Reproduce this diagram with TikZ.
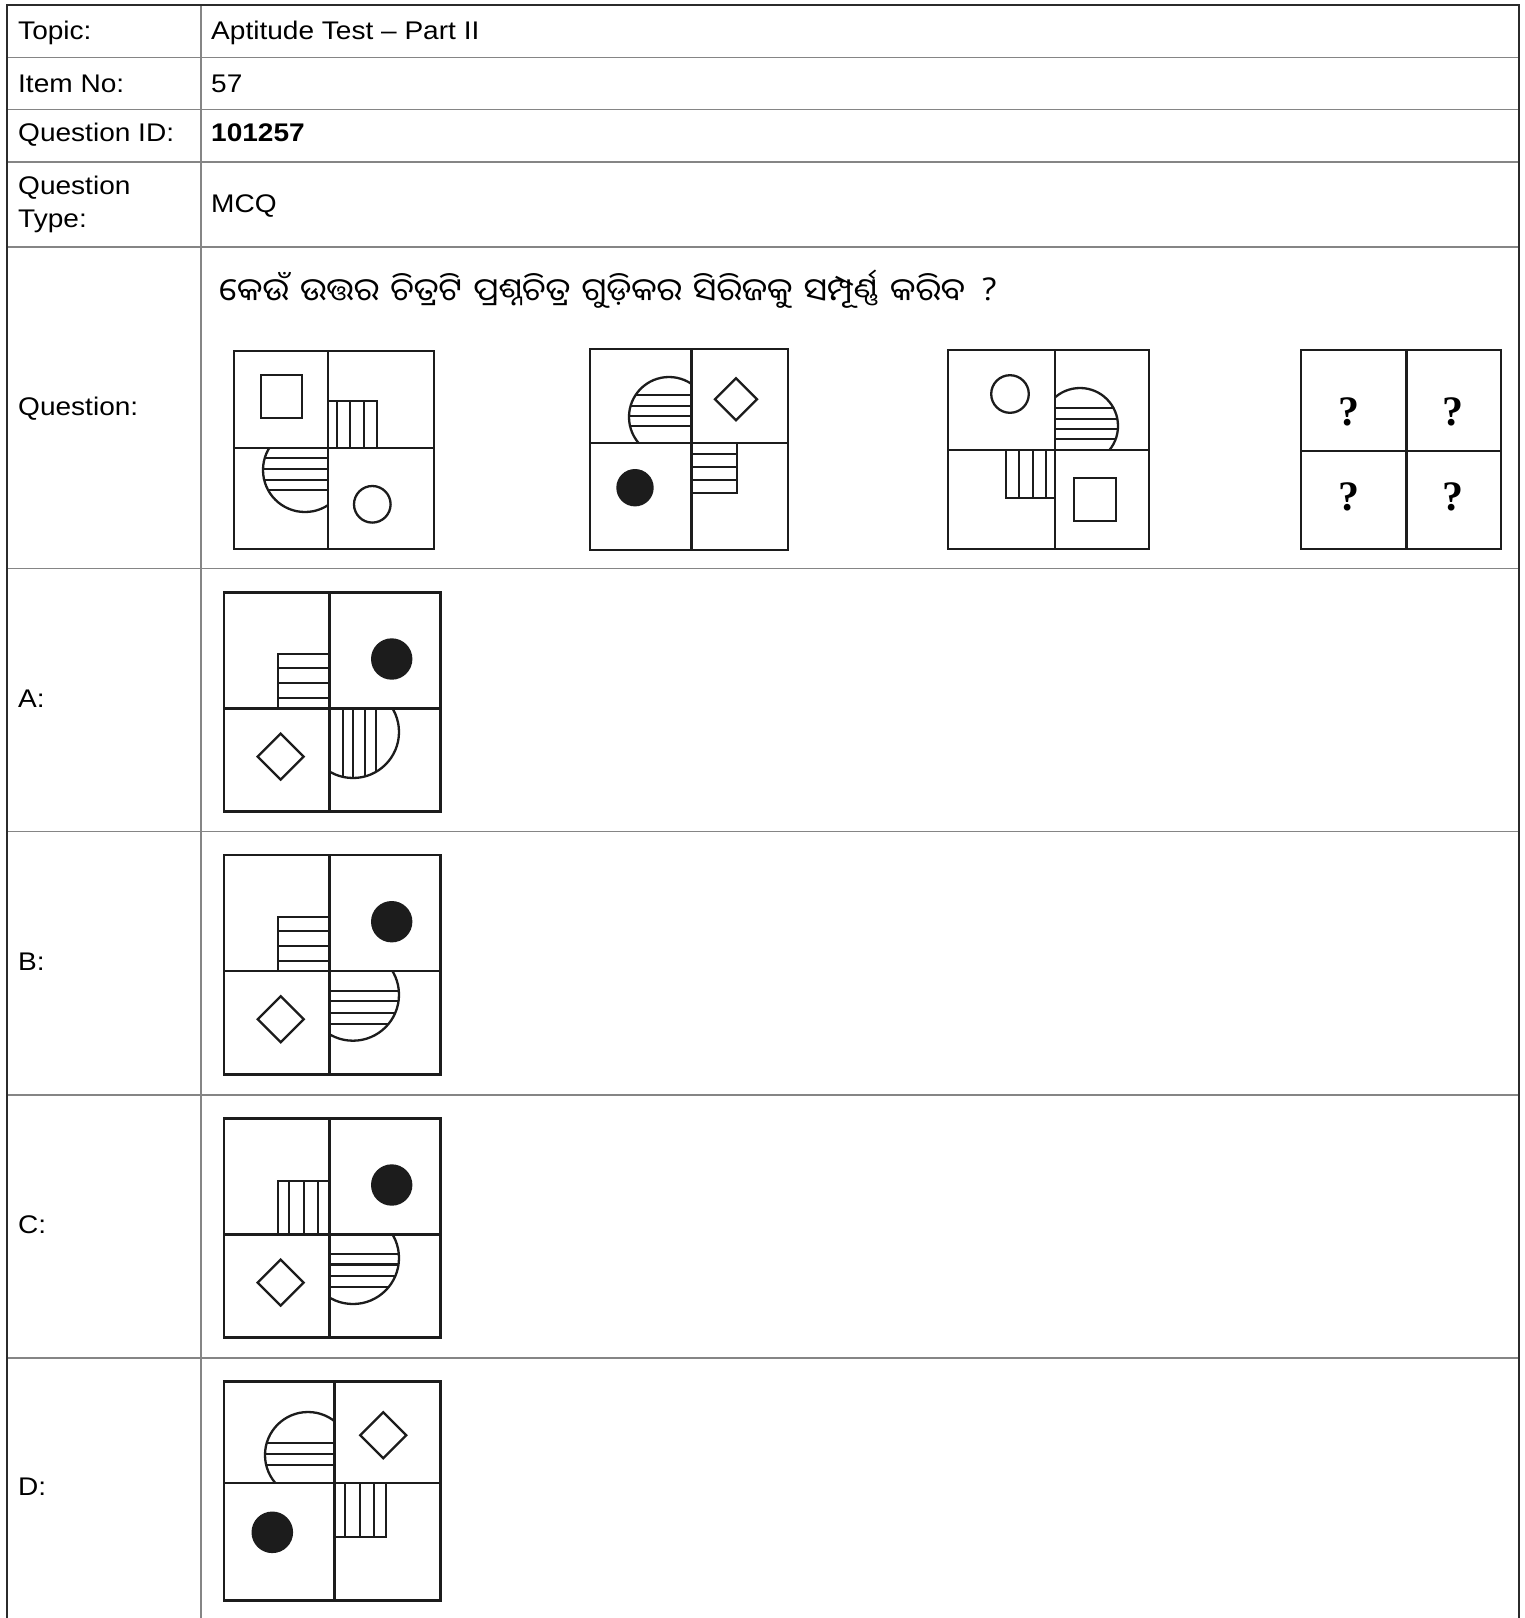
\documentclass[tikz,border=0pt]{standalone}
\usepackage{fontspec}
\setmainfont{Liberation Sans}[FakeStretch=1.1]
\newfontfamily\odiafont[Script=Oriya,FakeStretch=1.07,WordSpace=1.3]{Noto Sans Oriya UI}
\newfontfamily\markfont{Liberation Serif}
\usetikzlibrary{positioning}
\definecolor{rule}{HTML}{858585}
\definecolor{frame}{HTML}{2B2B2B}
\definecolor{ink}{HTML}{1C1C1C}
\tikzset{celltext/.style={anchor=base west,inner sep=0pt,font=\fontsize{25.5}{32.7}\selectfont},
  grid/.style={draw=rule,line width=1.4pt},
  outer/.style={draw=frame,line width=2.2pt},
  figframe/.style={draw=ink,line width=2.6pt},
  fig/.style={draw=ink,line width=2.3pt},
  spot/.style={fill=ink},
  qmark/.style={anchor=base,inner sep=0pt,font=\markfont\bfseries\fontsize{42}{42}\selectfont}}
\newcommand\panelbox[4]{\draw[figframe] (0,0) rectangle (#1,#2) (#3,0) -- (#3,#2) (0,#4) -- (#1,#4);}
\newcommand\rhomb[2]{\draw[fig] (#1) ++(0,-#2) -- ++(#2,#2) -- ++(-#2,#2) -- ++(-#2,-#2) -- cycle;}
\newcommand\halfdisc[5]{%
  \begin{scope}
    \clip (#1) rectangle (#2);
    \draw[fig] (#3) circle (#4);
    \clip (#3) circle (#4);
    \draw[fig] #5;
  \end{scope}}

\begin{document}
\begin{tikzpicture}[x=1pt,y=-1pt]
\fill[white] (0,0) rectangle (1525,1618);
\useasboundingbox (0,0) rectangle (1525,1618);
\foreach \ry in {57.7,109.7,162,247,568.5,831.6,1094.8,1357.8}{\draw[grid] (7,\ry) -- (1519.3,\ry);}
\draw[grid] (201,5) -- (201,1618);
\draw[outer] (7,1618) -- (7,5) -- (1519.3,5) -- (1519.3,1618);

\node[celltext] (topic) at (18,39.5) {Topic:};
\node[celltext] (topicval) at (211,39.5) {Aptitude Test -- Part II};
\node[celltext] (item) at (18,92.3) {Item No:};
\node[celltext] (itemval) at (211,92.3) {57};
\node[celltext] (qid) at (18,141.5) {Question ID:};
\node[celltext,font=\fontsize{25.5}{32.7}\selectfont\bfseries] (qidval) at (211,141.5) {101257};
\node[celltext] (qtype) at (18,194.5) {Question};
\node[celltext] (qtypeB) at (18,227.5) {Type:};
\node[celltext] (qtypeval) at (211,212.5) {MCQ};
\node[celltext] (qlabel) at (18,415) {Question:};
\node[celltext,font=\odiafont\fontsize{31.5}{36}\selectfont] (qtext) at (219,303) {କେଉଁ ଉତ୍ତର ଚିତ୍ରଟି ପ୍ରଶ୍ନଚିତ୍ର ଗୁଡ଼ିକର ସିରିଜକୁ ସମ୍ପୂର୍ଣ୍ଣ କରିବ\hspace{0.5em}?};
\foreach \opt/\by in {A/707,B/970,C/1233,D/1495}{\node[celltext] (opt\opt) at (18,\by) {\opt:};}

\begin{scope}[shift={(234,351)}]
\panelbox{200}{198}{94}{97}
\draw[fig] (26.7,24) rectangle (68,66.7);
\draw[fig] (94,50) rectangle (142.7,97) \foreach \vv in {102.7,116,130}{(\vv,50) -- (\vv,97)};
\halfdisc{0,97}{94,198}{71,119}{42pt}{\foreach \hh in {107,118,129,139}{(0,\hh) -- (94,\hh)}}
\draw[fig] (138.3,153.3) circle (18.3pt);
\end{scope}

\begin{scope}[shift={(590,349)}]
\panelbox{198}{201}{101.7}{94}
\halfdisc{0,0}{101.7,94}{79,68}{40pt}{\foreach \hh in {46,56.7,67,77}{(0,\hh) -- (101.7,\hh)}}
\rhomb{146,50.3}{21}
\fill[spot] (45,138.7) circle (18.7pt);
\draw[fig] (101.7,94) rectangle (147.3,143.7) \foreach \hh in {105.3,117.7,131}{(101.7,\hh) -- (147.3,\hh)};
\end{scope}

\begin{scope}[shift={(948,350)}]
\panelbox{201}{199}{107}{100}
\draw[fig] (62,44) circle (18.8pt);
\halfdisc{107,0}{201,100}{132,76}{38pt}{\foreach \hh in {58.3,69.3,79.3,89.3}{(107,\hh) -- (201,\hh)}}
\draw[fig] (58,100) rectangle (107,147.7) \foreach \vv in {71.3,84.7,98}{(\vv,100) -- (\vv,147.7)};
\draw[fig] (126.3,128.3) rectangle (167.7,171);
\end{scope}

\begin{scope}[shift={(1301,350)}]
\panelbox{200}{199}{105.7}{101}
\foreach \qx/\qy/\qn in {48.3/75/a,152/75/b,48.3/160.7/c,152/160.7/d}{\node[qmark] (blank\qn) at (\qx,\qy) {?};}
\end{scope}

\begin{scope}[shift={(224,592.3)}]
\panelbox{216.7}{219.4}{105.3}{116}
\draw[fig] (54.3,62) rectangle (105.3,116) \foreach \hh in {76,91,106}{(54.3,\hh) -- (105.3,\hh)};
\fill[spot] (167.7,66.7) circle (20.7pt);
\rhomb{56.7,164.3}{23}
\halfdisc{105.3,116}{216.7,219.4}{129,139.7}{46pt}{\foreach \vv in {118.7,129.3,141,152}{(\vv,116) -- (\vv,219.4)}}
\end{scope}

\begin{scope}[shift={(224,855)}]
\panelbox{216.7}{219.4}{105.3}{116}
\draw[fig] (54.3,62) rectangle (105.3,116) \foreach \hh in {76,91,106}{(54.3,\hh) -- (105.3,\hh)};
\fill[spot] (167.7,66.7) circle (20.7pt);
\rhomb{56.7,164.3}{23}
\halfdisc{105.3,116}{216.7,219.4}{129,139.7}{46pt}{\foreach \hh in {135.7,146.3,158,168.7}{(105.3,\hh) -- (216.7,\hh)}}
\end{scope}

\begin{scope}[shift={(224,1118.3)}]
\panelbox{216.7}{219.4}{105.3}{116}
\draw[fig] (54.3,62.4) rectangle (105.3,116) \foreach \vv in {65,80,94.3}{(\vv,62.4) -- (\vv,116)};
\fill[spot] (167.7,66.7) circle (20.7pt);
\rhomb{56.7,164.3}{23}
\halfdisc{105.3,116}{216.7,219.4}{129,139.7}{46pt}{\foreach \hh in {135.7,146.3,158,168.7}{(105.3,\hh) -- (216.7,\hh)}}
\end{scope}

\begin{scope}[shift={(224,1381.3)}]
\panelbox{216.7}{219.4}{110.3}{101.7}
\halfdisc{0,0}{110.3,101.7}{84,73.7}{43pt}{\foreach \hh in {61.7,72.7,84}{(0,\hh) -- (110.3,\hh)}}
\rhomb{159.3,54}{23}
\fill[spot] (48.3,151) circle (20.8pt);
\draw[fig] (110.3,101.7) rectangle (161.7,156) \foreach \vv in {120.7,136,150.3}{(\vv,101.7) -- (\vv,156)};
\end{scope}
\end{tikzpicture}
\end{document}
